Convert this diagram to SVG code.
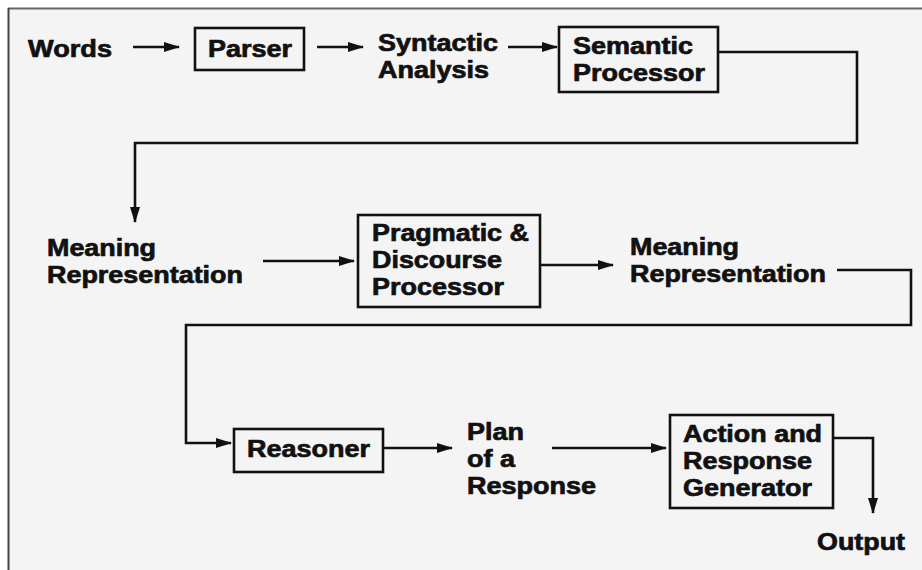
<svg xmlns="http://www.w3.org/2000/svg" width="922" height="570" viewBox="0 0 922 570">
<style>
text{font-family:"Liberation Sans",Arial,Helvetica,sans-serif;font-weight:bold;font-size:24px;fill:#111;stroke:#111;stroke-width:0.7px}
.box{fill:none;stroke:#111;stroke-width:2.6}
.ln{fill:none;stroke:#111;stroke-width:2.6;stroke-linejoin:miter}
</style>
<defs>
<marker id="ah" markerWidth="16" markerHeight="12" refX="15" refY="6" orient="auto" markerUnits="userSpaceOnUse">
<path d="M0,1 L16,6 L0,11 Z" fill="#111"/>
</marker>
</defs>
<rect x="0" y="0" width="922" height="570" fill="#fff"/>
<rect x="9" y="9" width="913" height="561" fill="#f4f4f4"/>
<line x1="8" y1="8.5" x2="922" y2="8.5" stroke="#666" stroke-width="2"/>
<line x1="8.5" y1="8" x2="8.5" y2="570" stroke="#444" stroke-width="2"/>

<g id="words"><text x="28" y="57" textLength="84" lengthAdjust="spacingAndGlyphs">Words</text></g>
<g id="parser"><rect class="box" x="195" y="28" width="109" height="42"/><text x="208" y="57" textLength="84" lengthAdjust="spacingAndGlyphs">Parser</text></g>
<g id="syntactic"><text x="378" y="51" textLength="120" lengthAdjust="spacingAndGlyphs">Syntactic</text><text x="378" y="78" textLength="111" lengthAdjust="spacingAndGlyphs">Analysis</text></g>
<g id="semantic"><rect class="box" x="559" y="27" width="159" height="65"/><text x="573" y="54" textLength="120" lengthAdjust="spacingAndGlyphs">Semantic</text><text x="573" y="81" textLength="132" lengthAdjust="spacingAndGlyphs">Processor</text></g>
<g id="meaning1"><text x="47" y="256" textLength="109" lengthAdjust="spacingAndGlyphs">Meaning</text><text x="47" y="283" textLength="196" lengthAdjust="spacingAndGlyphs">Representation</text></g>
<g id="pragmatic"><rect class="box" x="358" y="215" width="182" height="92"/><text x="372" y="241" textLength="157" lengthAdjust="spacingAndGlyphs">Pragmatic &amp;</text><text x="372" y="268" textLength="130" lengthAdjust="spacingAndGlyphs">Discourse</text><text x="372" y="295" textLength="132" lengthAdjust="spacingAndGlyphs">Processor</text></g>
<g id="meaning2"><text x="630" y="255" textLength="109" lengthAdjust="spacingAndGlyphs">Meaning</text><text x="630" y="282" textLength="196" lengthAdjust="spacingAndGlyphs">Representation</text></g>
<g id="reasoner"><rect class="box" x="234" y="429" width="149" height="43"/><text x="247" y="457" textLength="123" lengthAdjust="spacingAndGlyphs">Reasoner</text></g>
<g id="plan"><text x="467" y="440" textLength="57" lengthAdjust="spacingAndGlyphs">Plan</text><text x="467" y="467" textLength="48" lengthAdjust="spacingAndGlyphs">of a</text><text x="467" y="494" textLength="129" lengthAdjust="spacingAndGlyphs">Response</text></g>
<g id="action"><rect class="box" x="670" y="415" width="163" height="93"/><text x="683" y="442" textLength="139" lengthAdjust="spacingAndGlyphs">Action and</text><text x="683" y="469" textLength="129" lengthAdjust="spacingAndGlyphs">Response</text><text x="683" y="496" textLength="129" lengthAdjust="spacingAndGlyphs">Generator</text></g>
<g id="output"><text x="817" y="550" textLength="88" lengthAdjust="spacingAndGlyphs">Output</text></g>

<g id="connectors">
<line class="ln" x1="133" y1="47" x2="179" y2="47" marker-end="url(#ah)"/>
<line class="ln" x1="317" y1="47" x2="363" y2="47" marker-end="url(#ah)"/>
<line class="ln" x1="508" y1="47" x2="557" y2="47" marker-end="url(#ah)"/>
<polyline class="ln" points="718,52 857,52 857,143 135,143 135,222" marker-end="url(#ah)"/>
<line class="ln" x1="263" y1="261" x2="354" y2="261" marker-end="url(#ah)"/>
<line class="ln" x1="540" y1="265" x2="613" y2="265" marker-end="url(#ah)"/>
<polyline class="ln" points="837,270 911,270 911,325 186,325 186,443 231,443" marker-end="url(#ah)"/>
<line class="ln" x1="383" y1="448" x2="452" y2="448" marker-end="url(#ah)"/>
<line class="ln" x1="552" y1="448" x2="666" y2="448" marker-end="url(#ah)"/>
<polyline class="ln" points="833,438 873,438 873,513" marker-end="url(#ah)"/>
</g>
</svg>
